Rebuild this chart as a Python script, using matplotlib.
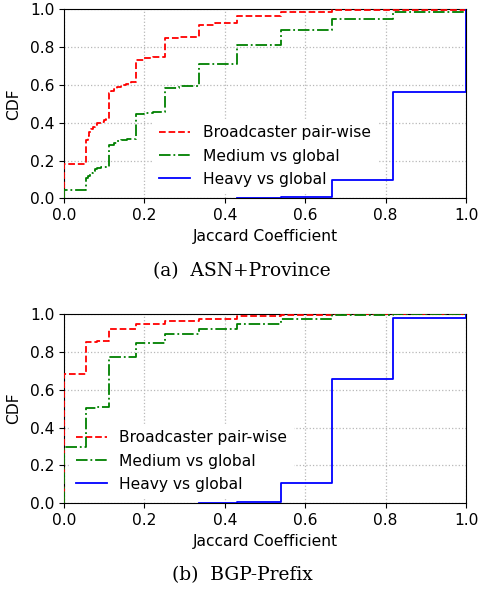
import matplotlib
matplotlib.use("Agg")
import matplotlib.pyplot as plt

# ---------------- data (step breakpoints, CDF value from x[i] to x[i+1]) -------------
# (a) ASN+Province
a_red_x = [0, 0, 0.055, 0.059, 0.0625, 0.067, 0.071, 0.077, 0.083, 0.091, 0.1, 0.105,
           0.113, 0.118, 0.125, 0.133, 0.143, 0.154, 0.167,
           0.179, 0.2, 0.222, 0.251, 0.286, 0.337, 0.375, 0.431, 0.539, 0.667, 1.0]
a_red_y = [0, 0.183, 0.31, 0.33, 0.35, 0.365, 0.378, 0.39, 0.398, 0.405, 0.412, 0.418,
           0.559, 0.568, 0.578, 0.588, 0.598, 0.606, 0.614,
           0.733, 0.742, 0.75, 0.85, 0.856, 0.92, 0.926, 0.966, 0.988, 0.996, 1.0]

a_green_x = [0, 0, 0.055, 0.06, 0.065, 0.071, 0.077, 0.083, 0.091, 0.1,
             0.113, 0.125, 0.133, 0.143, 0.156, 0.167,
             0.179, 0.2, 0.222, 0.251, 0.286, 0.337, 0.431, 0.539, 0.667, 0.819, 1.0]
a_green_y = [0, 0.044, 0.106, 0.118, 0.132, 0.143, 0.153, 0.159, 0.164, 0.167,
             0.282, 0.295, 0.301, 0.306, 0.312, 0.316,
             0.444, 0.45, 0.457, 0.585, 0.594, 0.709, 0.811, 0.89, 0.948, 0.987, 1.0]

a_blue_x = [0.43, 0.539, 0.667, 0.819, 1.0]
a_blue_y = [0.002, 0.008, 0.097, 0.561, 1.0]

# (b) BGP-Prefix
b_red_x = [0, 0, 0.055, 0.083, 0.113, 0.179, 0.251, 0.337, 0.431, 0.539, 0.667, 1.0]
b_red_y = [0, 0.683, 0.854, 0.857, 0.919, 0.946, 0.965, 0.973, 0.987, 0.995, 0.999, 1.0]

b_green_x = [0, 0, 0.055, 0.083, 0.113, 0.179, 0.251, 0.337, 0.431, 0.539, 0.667, 0.819, 1.0]
b_green_y = [0, 0.296, 0.505, 0.51, 0.773, 0.848, 0.893, 0.921, 0.947, 0.972, 0.995, 0.999, 1.0]

b_blue_x = [0.336, 0.43, 0.539, 0.667, 0.819, 1.0]
b_blue_y = [0.002, 0.008, 0.109, 0.655, 0.977, 1.0]

labels = ["Broadcaster pair-wise", "Medium vs global", "Heavy vs global"]
ticks = [0.0, 0.2, 0.4, 0.6, 0.8, 1.0]
captions = ["(a)  ASN+Province", "(b)  BGP-Prefix"]

# ---------------- figure ----------------
W, H = 479, 590
fig = plt.figure(figsize=(W / 100, H / 100), dpi=100)
FS = 11.2

def px_axes(l, t, r, b):
    return fig.add_axes([l / W, 1 - b / H, (r - l) / W, (b - t) / H])

panels = [
    (px_axes(64, 9.4, 466, 198.3), (a_red_x, a_red_y), (a_green_x, a_green_y),
     (a_blue_x, a_blue_y), "lower center"),
    (px_axes(64, 314, 466, 503.3), (b_red_x, b_red_y), (b_green_x, b_green_y),
     (b_blue_x, b_blue_y), "lower left"),
]

for ax, red, green, blue, loc in panels:
    ax.step(red[0], red[1], where="post", color="red", linestyle="--", lw=1.3,
            label=labels[0], zorder=7)
    ax.step(green[0], green[1], where="post", color="green", linestyle="-.", lw=1.3,
            label=labels[1], zorder=7)
    ax.step(blue[0], blue[1], where="post", color="blue", linestyle="-", lw=1.3,
            label=labels[2], zorder=7)
    ax.set_xlim(0, 1)
    ax.set_ylim(0, 1)
    ax.set_xticks(ticks)
    ax.set_yticks(ticks)
    ax.tick_params(labelsize=FS)
    ax.grid(True, linestyle=":", color="#b8b8b8", linewidth=0.9)
    ax.set_axisbelow(True)
    ax.set_xlabel("Jaccard Coefficient", fontsize=FS, labelpad=4)
    ax.set_ylabel("CDF", fontsize=FS, labelpad=6)
    leg = ax.legend(loc=loc, fontsize=FS, frameon=True, framealpha=1.0,
                    edgecolor="white", fancybox=False, labelspacing=0.52,
                    borderaxespad=0.35)
    leg.set_zorder(5)

fig.text(242 / W, 1 - 271 / H, captions[0], ha="center", va="center",
         family="DejaVu Serif", fontsize=13.4)
fig.text(242 / W, 1 - 575 / H, captions[1], ha="center", va="center",
         family="DejaVu Serif", fontsize=13.4)

fig.savefig("out.png", dpi=100)
